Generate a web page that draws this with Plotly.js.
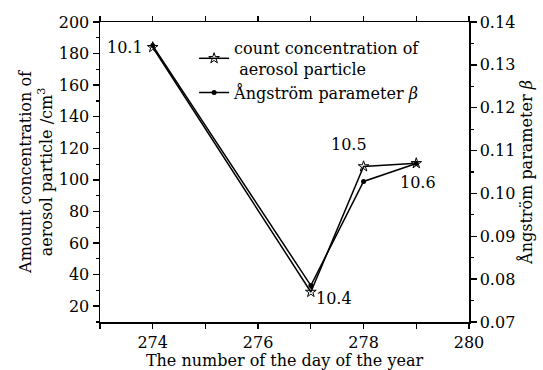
<!DOCTYPE html>
<html><head><meta charset="utf-8">
<script src="https://cdn.plot.ly/plotly-3.0.1.min.js"></script>
<style>html,body{margin:0;padding:0;background:#fff}</style>
</head><body><div id="chart" style="width:543px;height:370px"></div>
<script>
const days = [274, 277, 278, 279];
const countConc = [184, 29, 108.5, 110.5];
const beta = [0.1345, 0.0785, 0.1028, 0.1070];
const dateLabels = ["10.1", "10.4", "10.5", "10.6"];
const seriesNames = ["count concentration of<br> aerosol particle", "Ångström parameter <i>β</i>"];

const F = "'DejaVu Serif', 'Liberation Serif', serif";
const traces = [
  {x: days, y: countConc, name: seriesNames[0], type: 'scatter', mode: 'lines+markers',
   line: {color: '#000', width: 1.5}, marker: {symbol: 'star-open', size: 8, color: '#000', line: {width: 1}}},
  {x: days, y: beta, name: seriesNames[1], type: 'scatter', mode: 'lines+markers', yaxis: 'y2',
   line: {color: '#000', width: 1.5}, marker: {symbol: 'circle', size: 5, color: '#000'}}
];
const annShift = [[-8, 0, 'right', 'middle'], [3, -6, 'left', 'middle'], [-15, 22, 'center', 'middle'], [2, -19, 'center', 'middle']];
const annotations = dateLabels.map((t, i) => ({
  x: days[i], y: countConc[i], xref: 'x', yref: 'y', text: t, showarrow: false,
  xanchor: annShift[i][2], yanchor: annShift[i][3], xshift: annShift[i][0], yshift: annShift[i][1],
  font: {family: F, size: 16, color: '#000'}
}));

const axBase = {showgrid: false, zeroline: false, showline: true, linecolor: '#000', linewidth: 1.5,
  ticks: 'outside', ticklen: 6, tickwidth: 1.5, tickcolor: '#000',
  tickfont: {family: F, size: 16, color: '#000'}};
const layout = {
  width: 543, height: 370, margin: {l: 100, r: 74, t: 22, b: 48},
  paper_bgcolor: '#fff', plot_bgcolor: '#fff', font: {family: F, color: '#000'},
  showlegend: true,
  legend: {x: 0.255, y: 0.97, xanchor: 'left', yanchor: 'top', bgcolor: 'rgba(0,0,0,0)',
    font: {family: F, size: 16, color: '#000'}, tracegroupgap: 0, itemwidth: 30},
  xaxis: Object.assign({}, axBase, {range: [273, 280], dtick: 2, tick0: 274, mirror: 'allticks', ticklen: 5,
    minor: {dtick: 1, ticks: 'outside', ticklen: 4, tickwidth: 1.2, tickcolor: '#000'},
    title: {text: 'The number of the day of the year', font: {family: F, size: 16, color: '#000'}, standoff: 2}}),
  yaxis: Object.assign({}, axBase, {range: [10, 200], dtick: 20, tick0: 20,
    minor: {dtick: 10, ticks: 'outside', ticklen: 3, tickwidth: 1.2, tickcolor: '#000'},
    title: {text: 'Amount concentration of<br>aerosol particle /cm<sup>3</sup>', font: {family: F, size: 16, color: '#000'}, standoff: 2}}),
  yaxis2: Object.assign({}, axBase, {overlaying: 'y', side: 'right', range: [0.07, 0.14], dtick: 0.01, tickformat: '.2f',
    minor: {dtick: 0.005, ticks: 'outside', ticklen: 3, tickwidth: 1.2, tickcolor: '#000'},
    title: {text: 'Ångström parameter <i>β</i>', font: {family: F, size: 16, color: '#000'}, standoff: 6}}),
  annotations: annotations
};
Plotly.newPlot('chart', traces, layout, {staticPlot: true, displayModeBar: false});
</script></body></html>
